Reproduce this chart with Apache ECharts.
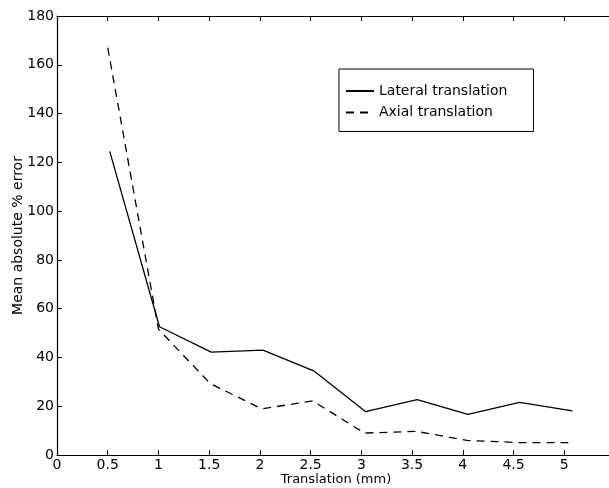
<!DOCTYPE html>
<html>
<head>
<meta charset="utf-8">
<script src="https://cdn.jsdelivr.net/npm/echarts@6/dist/echarts.min.js"></script>
<style>
  html, body { margin: 0; padding: 0; background: #fff; }
  #main { width: 609px; height: 488px; }
</style>
</head>
<body>
<div id="main"></div>
<script>
// values
const lateralX = [0.52, 1.01, 1.52, 2.03, 2.53, 3.04, 3.55, 4.05, 4.56, 5.08];
const lateralY = [124.5, 52.6, 42.2, 43.0, 34.5, 17.8, 22.7, 16.7, 21.6, 18.1];
const axialX = [0.50, 1.00, 1.51, 2.02, 2.52, 3.03, 3.54, 4.04, 4.55, 5.04];
const axialY = [167, 51.6, 29.3, 18.9, 22.2, 9.0, 9.7, 6.0, 5.1, 5.1];
const xTicks = [0, 0.5, 1, 1.5, 2, 2.5, 3, 3.5, 4, 4.5, 5];

const pairs = (xs, ys) => xs.map((x, i) => [x, ys[i]]);

const font = "DejaVu Sans";
const chart = echarts.init(document.getElementById("main"));

const axisCommon = {
  type: "value",
  axisLine: { show: true, onZero: false, lineStyle: { color: "#000", width: 1.2 } },
  axisTick: { show: true, inside: true, length: 5, lineStyle: { color: "#000" } },
  splitLine: { show: false },
};

chart.setOption({
  animation: false,
  backgroundColor: "#fff",
  textStyle: { fontFamily: font },
  grid: { left: 57, right: -6, top: 16, bottom: 33, containLabel: false, outerBoundsMode: "none" },
  legend: {
    orient: "vertical",
    left: 339,
    top: 69,
    padding: [15, 26, 12, 6],
    itemWidth: 28,
    itemHeight: 14,
    itemGap: 7.5,
    borderColor: "#000",
    borderWidth: 1,
    itemStyle: { opacity: 0 },
    textStyle: { fontFamily: font, fontSize: 14, color: "#000" },
    data: ["Lateral translation", "Axial translation"],
  },
  xAxis: [
    Object.assign({}, axisCommon, {
      min: 0, max: 5.5, interval: 0.5,
      position: "bottom",
      name: "Translation (mm)",
      nameLocation: "middle",
      nameGap: 18,
      nameMoveOverlap: false,
      nameTextStyle: { fontFamily: font, fontSize: 13, color: "#000" },
      axisLabel: {
        color: "#000", fontSize: 14, fontFamily: font, margin: 3,
        formatter: (v) => (xTicks.includes(v) ? String(v) : ""),
      },
    }),
    Object.assign({}, axisCommon, {
      min: 0, max: 5.5, interval: 0.5,
      position: "top",
      axisLabel: { show: false },
    }),
  ],
  yAxis: [
    Object.assign({}, axisCommon, {
      min: 0, max: 180, interval: 20,
      position: "left",
      name: "Mean absolute % error",
      nameLocation: "middle",
      nameGap: 32,
      nameMoveOverlap: false,
      nameTextStyle: { fontFamily: font, fontSize: 14, color: "#000" },
      axisLabel: { color: "#000", fontSize: 14, fontFamily: font, margin: 3 },
    }),
    Object.assign({}, axisCommon, {
      min: 0, max: 180, interval: 20,
      position: "right",
      axisLabel: { show: false },
    }),
  ],
  series: [
    {
      name: "Lateral translation",
      type: "line",
      data: pairs(lateralX, lateralY),
      symbol: "none",
      lineStyle: { color: "#000", width: 1.3, type: "solid" },
      itemStyle: { color: "#000" },
    },
    {
      name: "Axial translation",
      type: "line",
      data: pairs(axialX, axialY),
      symbol: "none",
      lineStyle: { color: "#000", width: 1.3, type: [8, 6] },
      itemStyle: { color: "#000" },
    },
  ],
});
</script>
</body>
</html>
